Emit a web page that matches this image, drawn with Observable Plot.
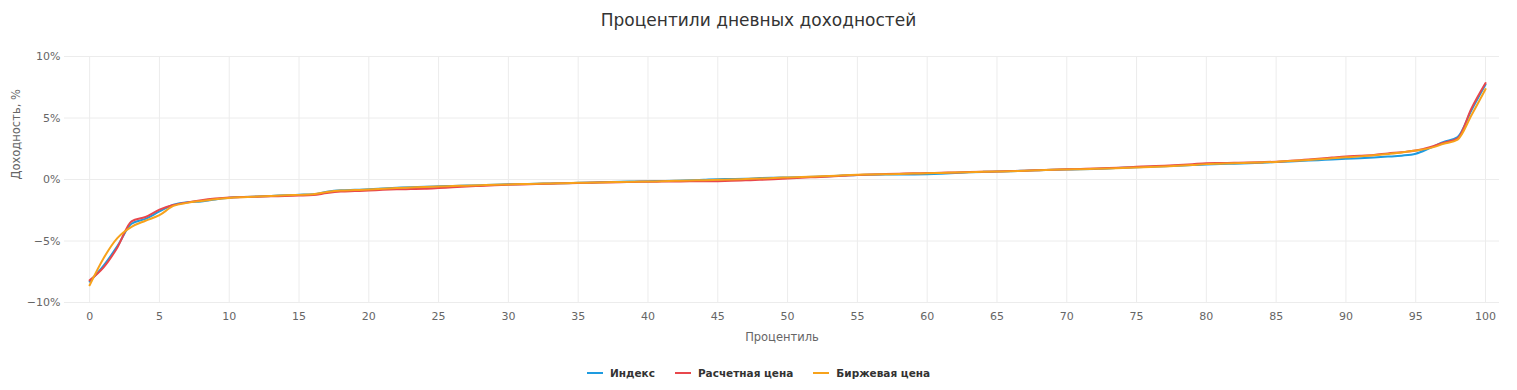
<!DOCTYPE html>
<html>
<head>
<meta charset="utf-8">
<script src="https://cdn.jsdelivr.net/npm/d3@7"></script>
<script src="https://cdn.jsdelivr.net/npm/@observablehq/plot@0.6"></script>
<style>
  html, body { margin: 0; padding: 0; background: #fff; }
  body { width: 1517px; height: 390px; overflow: hidden; font-family: "DejaVu Sans", sans-serif; }
  #title { height: 40px; line-height: 40px; text-align: center; font-size: 17px; color: #333; }
  #chart { height: 310px; }
  #legend { height: 40px; box-sizing: border-box; padding-top: 6px; display: flex; justify-content: center; align-items: center; gap: 20px; font-size: 10.5px; font-weight: bold; color: #333; }
  .item { display: flex; align-items: center; }
  .sw { width: 16px; height: 2px; margin-right: 7px; }
</style>
</head>
<body>
<div id="title">Процентили дневных доходностей</div>
<div id="chart"></div>
<div id="legend"></div>
<script>
const seriesNames = ["Индекс", "Расчетная цена", "Биржевая цена"];
const seriesColors = ["#1e9be0", "#e8474c", "#f7a21b"];
const percentiles = d3.range(0, 101);
const xTicks = [0, 5, 10, 15, 20, 25, 30, 35, 40, 45, 50, 55, 60, 65, 70, 75, 80, 85, 90, 95, 100];
const yTicks = [-10, -5, 0, 5, 10];

const indexValues = [
  -8.3, -7.0, -5.4, -3.6, -3.2, -2.6, -2.05, -1.85, -1.78, -1.62,
  -1.48, -1.42, -1.38, -1.34, -1.28, -1.24, -1.2, -1.0, -0.88, -0.84,
  -0.8, -0.74, -0.68, -0.62, -0.58, -0.55, -0.52, -0.49, -0.46, -0.42,
  -0.39, -0.37, -0.35, -0.32, -0.3, -0.27, -0.24, -0.21, -0.18, -0.16,
  -0.14, -0.12, -0.1, -0.07, -0.02, 0.03, 0.04, 0.06, 0.12, 0.15,
  0.17, 0.2, 0.23, 0.27, 0.32, 0.37, 0.39, 0.4, 0.4, 0.41,
  0.43, 0.47, 0.52, 0.58, 0.62, 0.65, 0.68, 0.72, 0.76, 0.79,
  0.81, 0.83, 0.86, 0.9, 0.95, 0.99, 1.04, 1.08, 1.12, 1.17,
  1.22, 1.25, 1.29, 1.33, 1.37, 1.42, 1.47, 1.52, 1.57, 1.63,
  1.68, 1.73, 1.79, 1.86, 1.94, 2.1, 2.55, 3.05, 3.45, 5.65,
  7.72
];
const settlementValues = [
  -8.2, -7.15, -5.5, -3.4, -3.05, -2.45, -2.08, -1.86, -1.68, -1.55,
  -1.46, -1.43, -1.4, -1.37, -1.34, -1.31, -1.27, -1.1, -0.98, -0.94,
  -0.9, -0.84, -0.8, -0.78, -0.76, -0.7, -0.63, -0.57, -0.52, -0.47,
  -0.43, -0.4, -0.37, -0.34, -0.31, -0.28, -0.26, -0.24, -0.22, -0.2,
  -0.18, -0.17, -0.16, -0.15, -0.15, -0.14, -0.11, -0.07, -0.03, 0.02,
  0.08, 0.14, 0.19, 0.24, 0.3, 0.36, 0.41, 0.44, 0.47, 0.5,
  0.52, 0.55, 0.57, 0.6, 0.63, 0.66, 0.69, 0.72, 0.76, 0.8,
  0.83, 0.86, 0.89, 0.93, 0.98, 1.03, 1.08, 1.12, 1.18, 1.25,
  1.32, 1.34, 1.36, 1.38, 1.41, 1.45, 1.52, 1.6, 1.68, 1.78,
  1.88, 1.93, 2.0, 2.12, 2.22, 2.35, 2.62, 3.0, 3.35, 5.8,
  7.84
];
const exchangeValues = [
  -8.6, -6.4, -4.75, -3.85, -3.35, -2.9, -2.15, -1.9, -1.74, -1.6,
  -1.5, -1.44, -1.39, -1.34, -1.29, -1.25, -1.2, -1.02, -0.9, -0.86,
  -0.82, -0.76, -0.7, -0.65, -0.6, -0.56, -0.53, -0.5, -0.47, -0.43,
  -0.4, -0.37, -0.35, -0.32, -0.3, -0.27, -0.25, -0.22, -0.2, -0.18,
  -0.16, -0.14, -0.11, -0.08, -0.06, -0.03, 0.0, 0.04, 0.08, 0.13,
  0.17, 0.21, 0.25, 0.29, 0.34, 0.38, 0.41, 0.43, 0.45, 0.48,
  0.5, 0.53, 0.56, 0.59, 0.62, 0.65, 0.68, 0.72, 0.75, 0.79,
  0.82, 0.84, 0.87, 0.9, 0.94, 0.97, 1.01, 1.06, 1.11, 1.18,
  1.25, 1.29, 1.33, 1.36, 1.39, 1.43, 1.5, 1.57, 1.64, 1.72,
  1.8, 1.88, 1.97, 2.08, 2.2, 2.35, 2.55, 2.9, 3.25, 5.25,
  7.35
];

const allValues = [indexValues, settlementValues, exchangeValues];
const rows = [];
allValues.forEach((vals, si) => {
  vals.forEach((v, i) => rows.push({ p: percentiles[i], v, s: seriesNames[si] }));
});

const fmtPct = d => (d < 0 ? "\u2212" : "") + Math.abs(d) + "%";

const chart = Plot.plot({
  width: 1517,
  height: 310,
  marginTop: 16,
  marginBottom: 48,
  marginLeft: 64,
  marginRight: 18,
  style: { fontFamily: "DejaVu Sans, sans-serif", fontSize: "11px", color: "#666", background: "#fff" },
  x: { domain: [-1.8, 101], ticks: xTicks },
  y: { domain: [-10, 10], ticks: yTicks },
  color: { domain: seriesNames, range: seriesColors },
  marks: [
    Plot.gridX(xTicks, { stroke: "#ececec", strokeOpacity: 1 }),
    Plot.gridY(yTicks, { stroke: "#ececec", strokeOpacity: 1 }),
    Plot.axisX(xTicks, { tickSize: 0, tickPadding: 10, label: null, fill: "#666", fontSize: 11 }),
    Plot.axisY(yTicks, { tickSize: 0, tickPadding: 4, label: null, tickFormat: fmtPct, fill: "#666", fontSize: 11 }),
    Plot.text(["Процентиль"], { frameAnchor: "bottom", dy: 38, fill: "#666", fontSize: 11.5 }),
    Plot.text(["Доходность, %"], { frameAnchor: "left", dx: -48, rotate: -90, fill: "#666", fontSize: 11.5 }),
    Plot.line(rows, { x: "p", y: "v", z: "s", stroke: "s", strokeWidth: 2, curve: "monotone-x" })
  ]
});
document.getElementById("chart").appendChild(chart);

const legend = document.getElementById("legend");
seriesNames.forEach((name, i) => {
  const item = document.createElement("div");
  item.className = "item";
  const sw = document.createElement("div");
  sw.className = "sw";
  sw.style.background = seriesColors[i];
  const label = document.createElement("span");
  label.textContent = name;
  item.appendChild(sw);
  item.appendChild(label);
  legend.appendChild(item);
});
</script>
</body>
</html>
